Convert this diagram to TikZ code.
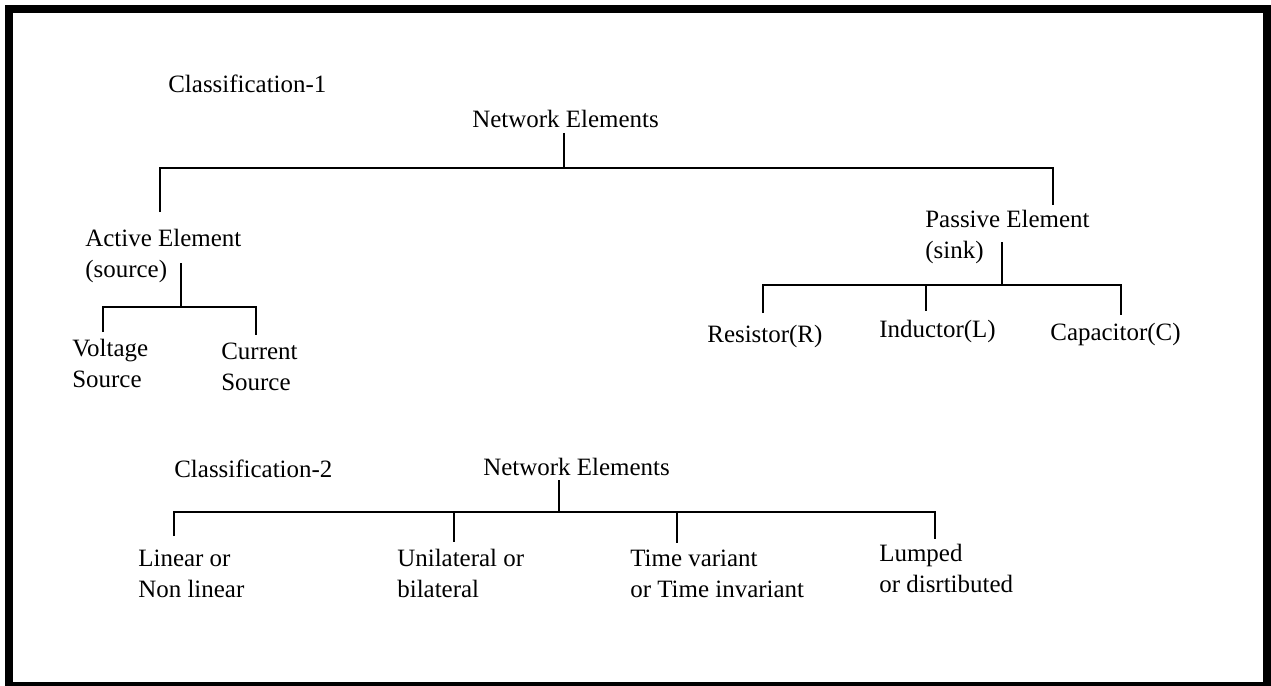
\documentclass[tikz,border=0pt]{standalone}
\usepackage{fontspec}
\setmainfont{Liberation Serif}
\usepackage{tikz}

\begin{document}
\begin{tikzpicture}[x=0.02cm,y=-0.02cm]
                    \tikzstyle{txt}=[inner sep=0pt,anchor=base west,align=left,font=\fontsize{14.2}{17.6}\selectfont]
                    \tikzstyle{wire}=[line width=1.1pt]
                    \useasboundingbox (0,0) rectangle (1271,686);
                    \draw [line width=4.55pt] (9,9) rectangle (1267,686);

                    % classification 1 (two-line nodes sit on their last line)
                    \node (c1) at (168,92) [txt] {Classification-1};
                    \node (ne1) at (472,128) [txt] {Network Elements};
                    \node (act) at (85,277) [txt] {Active Element\\(source)};
                    \node (pas) at (925,258) [txt] {Passive Element\\(sink)};
                    \node (vs) at (72,387) [txt] {Voltage\\Source};
                    \node (cs) at (221,390) [txt] {Current\\Source};
                    \node (res) at (707,342) [txt] {Resistor(R)};
                    \node (ind) at (879,337) [txt] {Inductor(L)};
                    \node (cap) at (1050,340) [txt] {Capacitor(C)};

                    \coordinate (s1) at (564,133);
                    \coordinate (b1) at (564,168);
                    \coordinate (b1l) at (160,168);
                    \coordinate (b1r) at (1053,168);
                    \coordinate (act1) at (160,212);
                    \coordinate (pas1) at (1053,205);

                    \coordinate (s2) at (181,263);
                    \coordinate (b2) at (181,307);
                    \coordinate (b2l) at (103,307);
                    \coordinate (b2r) at (256,307);
                    \coordinate (vs1) at (103,332);
                    \coordinate (cs1) at (256,335);

                    \coordinate (s3) at (1002,242);
                    \coordinate (b3) at (1002,285);
                    \coordinate (b3l) at (763,285);
                    \coordinate (b3m) at (926,285);
                    \coordinate (b3r) at (1121,285);
                    \coordinate (res1) at (763,313);
                    \coordinate (ind1) at (926,311);
                    \coordinate (cap1) at (1121,315);

                    \draw [wire] (s1) -- (b1);
                    \draw [wire] (act1) -- (b1l) -- (b1r) -- (pas1);
                    \draw [wire] (s2) -- (b2);
                    \draw [wire] (vs1) -- (b2l) -- (b2r) -- (cs1);
                    \draw [wire] (s3) -- (b3);
                    \draw [wire] (res1) -- (b3l) -- (b3r) -- (cap1);
                    \draw [wire] (b3m) -- (ind1);

                    % classification 2
                    \node (c2) at (174,477) [txt] {Classification-2};
                    \node (ne2) at (483,475) [txt] {Network Elements};
                    \node (lin) at (138,597) [txt] {Linear or\\Non linear};
                    \node (uni) at (397,597) [txt] {Unilateral or\\bilateral};
                    \node (tv) at (630,597) [txt] {Time variant\\or Time invariant};
                    \node (lum) at (879,592) [txt] {Lumped\\or disrtibuted};

                    \coordinate (s4) at (559,480);
                    \coordinate (b4) at (559,512);
                    \coordinate (b4l) at (174,512);
                    \coordinate (b4u) at (454,512);
                    \coordinate (b4t) at (677,512);
                    \coordinate (b4r) at (935,512);
                    \coordinate (lin1) at (174,536);
                    \coordinate (uni1) at (454,542);
                    \coordinate (tv1) at (677,543);
                    \coordinate (lum1) at (935,539);

                    \draw [wire] (s4) -- (b4);
                    \draw [wire] (lin1) -- (b4l) -- (b4r) -- (lum1);
                    \draw [wire] (b4u) -- (uni1);
                    \draw [wire] (b4t) -- (tv1);
                \end{tikzpicture}
\end{document}
